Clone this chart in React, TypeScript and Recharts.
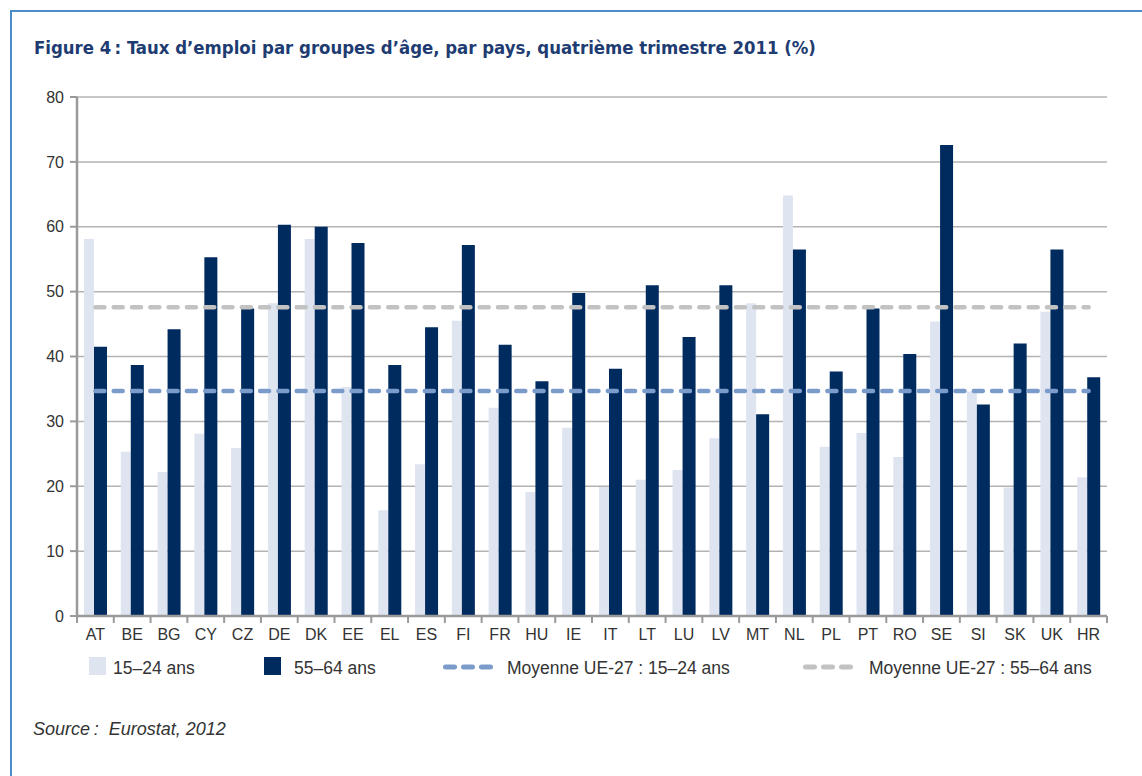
import React from 'react'
import { ComposedChart, Bar, Line, XAxis, YAxis, CartesianGrid } from 'recharts'

const countries = ['AT', 'BE', 'BG', 'CY', 'CZ', 'DE', 'DK', 'EE', 'EL', 'ES', 'FI', 'FR', 'HU', 'IE', 'IT', 'LT', 'LU', 'LV', 'MT', 'NL', 'PL', 'PT', 'RO', 'SE', 'SI', 'SK', 'UK', 'HR']
const rate1524 = [58.1, 25.3, 22.2, 28.1, 25.9, 48.2, 58.1, 35.3, 16.3, 23.4, 45.5, 32.1, 19.1, 29.0, 19.9, 21.0, 22.5, 27.4, 48.2, 64.8, 26.1, 28.2, 24.5, 45.4, 34.6, 19.8, 46.9, 21.4]
const rate5564 = [41.5, 38.7, 44.2, 55.3, 47.4, 60.3, 60.0, 57.5, 38.7, 44.5, 57.2, 41.8, 36.2, 49.8, 38.1, 51.0, 43.0, 51.0, 31.1, 56.5, 37.7, 47.4, 40.4, 72.6, 32.6, 42.0, 56.5, 36.8]
const euAvg1524 = 34.7
const euAvg5564 = 47.6
const yTicks = [0, 10, 20, 30, 40, 50, 60, 70, 80]
const seriesNames = ['15–24 ans', '55–64 ans', 'Moyenne UE-27 : 15–24 ans', 'Moyenne UE-27 : 55–64 ans']
const title = 'Figure 4\u2009: Taux d’emploi par groupes d’âge, par pays, quatrième trimestre 2011 (%)'
const source = 'Source\u2009:\u00a0\u00a0Eurostat, 2012'

const data = countries.map((c, i) => ({
  country: c,
  young: rate1524[i],
  old: rate5564[i],
  avgYoung: euAvg1524,
  avgOld: euAvg5564,
}))

const W = 1142
const H = 700
const margin = { top: 97, right: 35, left: 17, bottom: 54 }
const yAxisWidth = 60
const band = (W - margin.left - margin.right - yAxisWidth) / countries.length

const LIGHT = '#dee4f0'
const DARK = '#002b5f'
const BLUE = '#7b9bcb'
const GREY = '#c2c2c2'
const AXIS = '#9a9a9a'
const TEXT = '#333333'
const FONT = '"Liberation Sans", Arial, sans-serif'

function CountryTick(props: any) {
  const { x, y, payload, index } = props
  const last = index === countries.length - 1
  return (
    <g>
      <line x1={x - band / 2} x2={x - band / 2} y1={y} y2={y + 7} stroke={AXIS} strokeWidth={2} />
      {last && <line x1={x + band / 2} x2={x + band / 2} y1={y} y2={y + 7} stroke={AXIS} strokeWidth={2} />}
      <text x={x} y={y + 24} textAnchor="middle" fill={TEXT} fontSize={16} fontFamily={FONT}>
        {payload.value}
      </text>
    </g>
  )
}

function Dashes({ x, color }: { x: number; color: string }) {
  return <line x1={x + 2.5} x2={x + 47.5} y1={667} y2={667} stroke={color} strokeWidth={5} strokeDasharray="9 9" strokeLinecap="round" />
}

export default function App() {
  return (
    <div style={{ position: 'absolute', left: 0, top: 0, width: W, height: 776, background: '#fff', overflow: 'hidden' }}>
      <div style={{ position: 'absolute', left: 10, top: 10, width: W, height: 800, borderLeft: '2px solid #4a8dc8', borderTop: '2px solid #4a8dc8' }} />
      <div style={{ position: 'absolute', left: 0, top: 0 }}>
        <ComposedChart width={W} height={H} data={data} margin={margin} barGap={0}>
          <CartesianGrid vertical={false} stroke="#b3b3b3" strokeWidth={1.5} />
          <XAxis
            dataKey="country"
            height={30}
            interval={0}
            tickSize={0}
            tickMargin={0}
            tickLine={false}
            axisLine={{ stroke: AXIS, strokeWidth: 2.5 }}
            tick={<CountryTick />}
          />
          <YAxis
            width={yAxisWidth}
            domain={[0, 80]}
            ticks={yTicks}
            interval={0}
            tickSize={7}
            tickMargin={6}
            axisLine={{ stroke: AXIS, strokeWidth: 2.5 }}
            tickLine={{ stroke: AXIS, strokeWidth: 2 }}
            tick={{ fill: TEXT, fontSize: 16, fontFamily: FONT }}
          />
          <Bar dataKey="young" name={seriesNames[0]} fill={LIGHT} barSize={10} isAnimationActive={false} />
          <Bar dataKey="old" name={seriesNames[1]} fill={DARK} barSize={13} isAnimationActive={false} />
          <Line type="linear" dataKey="avgYoung" name={seriesNames[2]} stroke={BLUE} strokeWidth={4.5} strokeDasharray="9 9.3" strokeLinecap="round" dot={false} activeDot={false} isAnimationActive={false} />
          <Line type="linear" dataKey="avgOld" name={seriesNames[3]} stroke={GREY} strokeWidth={4.5} strokeDasharray="9 9.3" strokeLinecap="round" dot={false} activeDot={false} isAnimationActive={false} />
        </ComposedChart>
      </div>
      <svg width={W} height={776} style={{ position: 'absolute', left: 0, top: 0, pointerEvents: 'none' }}>
        <text x={34} y={53.5} fill="#1e3c72" fontSize={18.4} fontWeight="bold" fontFamily='"Liberation Sans Narrow", "DejaVu Sans Condensed", sans-serif'>
          {title}
        </text>
        <rect x={89} y={657} width={17} height={18} fill={LIGHT} />
        <text x={113} y={674} fill={TEXT} fontSize={17.5} fontFamily={FONT}>{seriesNames[0]}</text>
        <rect x={264} y={657} width={17} height={18} fill={DARK} />
        <text x={294} y={674} fill={TEXT} fontSize={17.5} fontFamily={FONT}>{seriesNames[1]}</text>
        <Dashes x={443} color={BLUE} />
        <text x={507} y={674} fill={TEXT} fontSize={17.5} fontFamily={FONT}>{seriesNames[2]}</text>
        <Dashes x={803} color={GREY} />
        <text x={869} y={674} fill={TEXT} fontSize={17.5} fontFamily={FONT}>{seriesNames[3]}</text>
        <text x={33} y={735} fill={TEXT} fontSize={18} fontStyle="italic" fontFamily={FONT} xmlSpace="preserve">{source}</text>
      </svg>
    </div>
  )
}
